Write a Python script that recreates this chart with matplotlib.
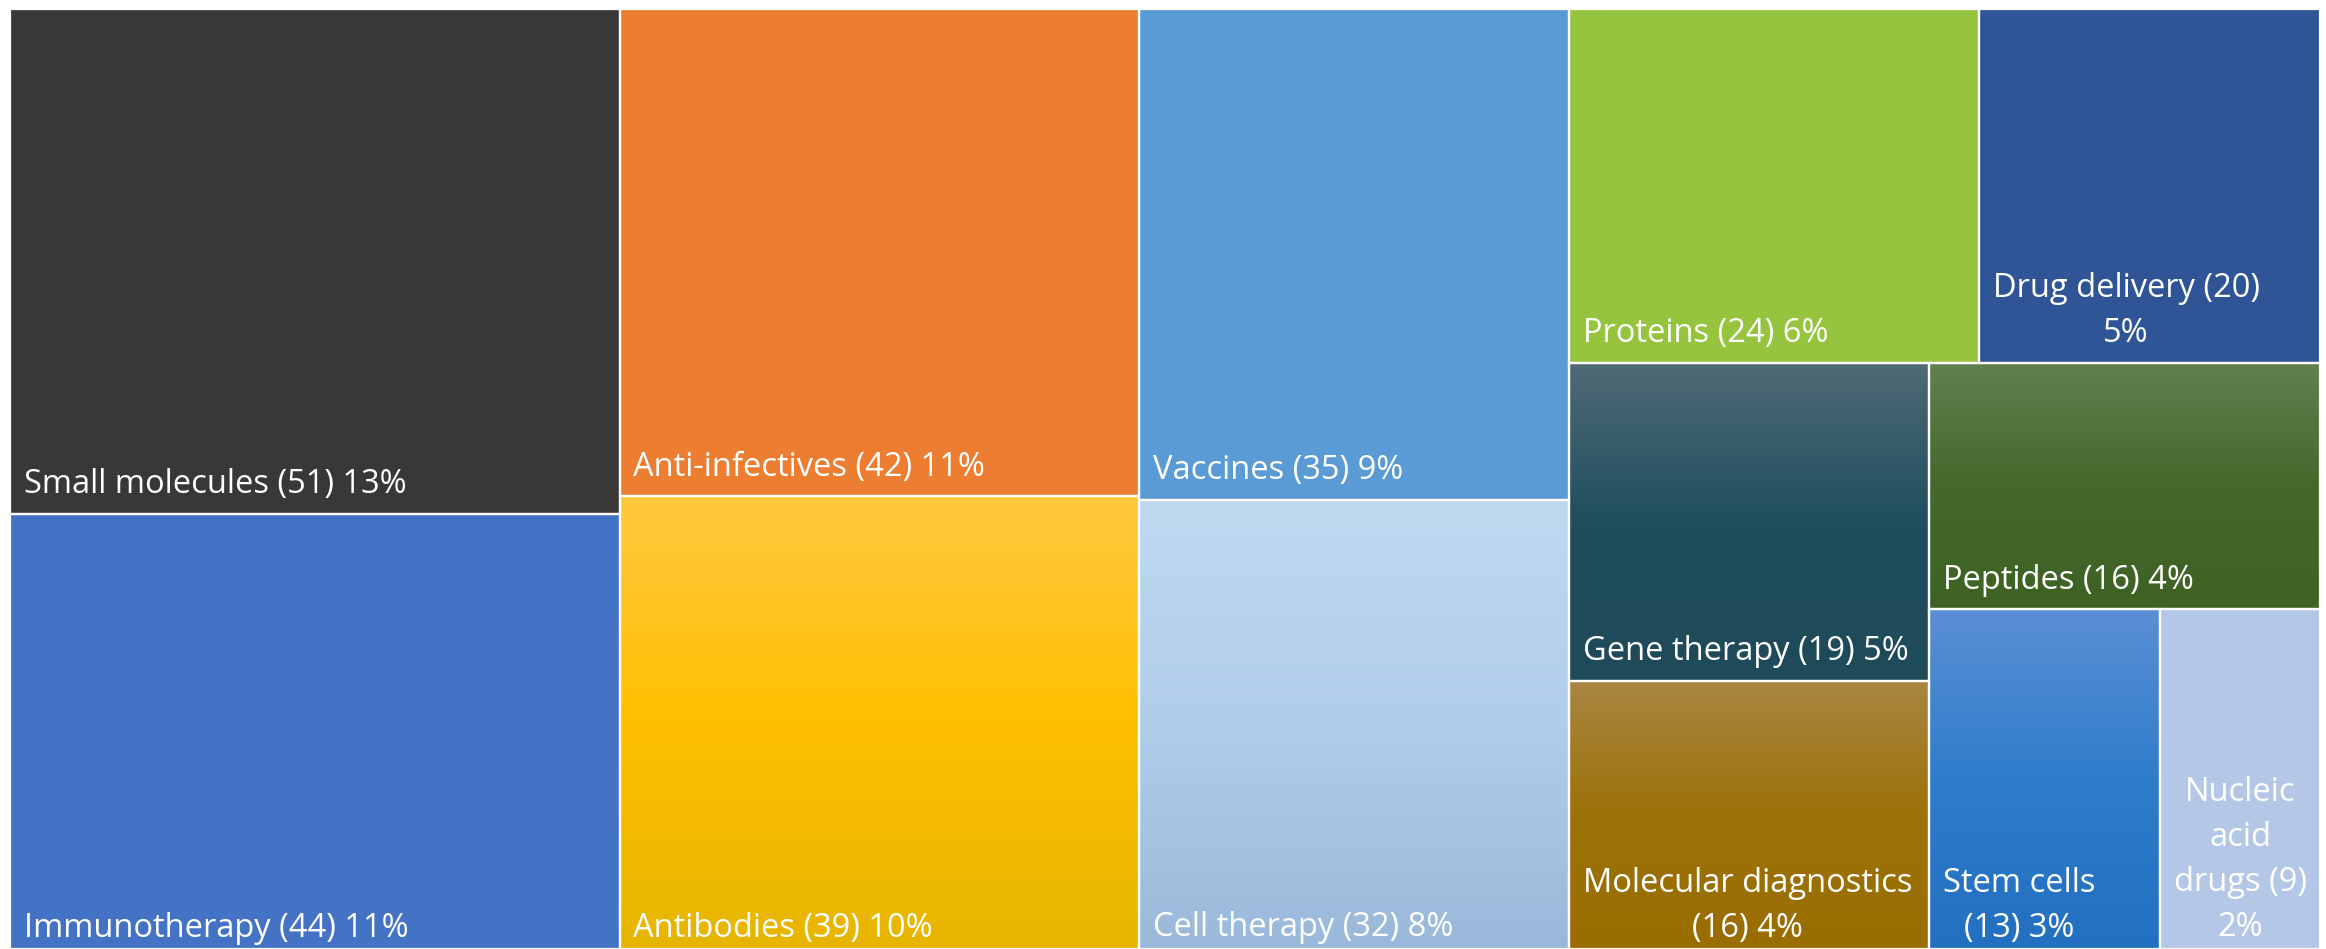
import matplotlib
matplotlib.use('Agg')
import matplotlib.pyplot as plt
from matplotlib.colors import LinearSegmentedColormap
import numpy as np

# data (excel order: value descending, ties in sheet order)
names = ['Small molecules', 'Immunotherapy', 'Anti-infectives', 'Antibodies', 'Vaccines',
         'Cell therapy', 'Proteins', 'Drug delivery', 'Gene therapy', 'Molecular diagnostics',
         'Peptides', 'Stem cells', 'Nucleic acid drugs']
counts = [51, 44, 42, 39, 35, 32, 24, 20, 19, 16, 16, 13, 9]
pcts = [13, 11, 11, 10, 9, 8, 6, 5, 5, 4, 4, 3, 2]

# fill per tile: one colour = solid, several = vertical gradient top->bottom
fills = [['#3a3836'],
         ['#4472c4'],
         ['#ed7d31'],
         ['#ffc83f', '#ffc000', '#e6b500'],
         ['#5b9bd5'],
         ['#bfd9f0', '#b0cdea', '#9ab9da'],
         ['#97c43f'],
         ['#2f5597'],
         ['#506a75', '#1f4e5f', '#1f4a59'],
         ['#a98643', '#9c7208', '#9a6d00'],
         ['#61804f', '#44692b', '#3d6224'],
         ['#5a8fd4', '#2f7ccb', '#2370c0'],
         ['#b4c7e7']]

# labels that excel wraps because the tile is too narrow
wrapped = {'Drug delivery': 'Drug delivery (20)\n5%',
           'Molecular diagnostics': 'Molecular diagnostics\n(16) 4%',
           'Stem cells': 'Stem cells\n(13) 3%',
           'Nucleic acid drugs': 'Nucleic\nacid\ndrugs (9)\n2%'}

#------------------------------
# squarified layout
#------------------------------
def worst(row, side):
    s = sum(row)
    return max(max(side**2*r/s**2, s**2/(side**2*r)) for r in row)

def squarify(vals, x, y, w, h):
    tot = float(sum(vals))
    areas = [v*w*h/tot for v in vals]
    rects = []
    i = 0
    while i < len(areas):
        side = min(w, h)
        row = [areas[i]]; i += 1
        while i < len(areas) and worst(row+[areas[i]], side) <= worst(row, side):
            row.append(areas[i]); i += 1
        s = sum(row)
        if w >= h:
            cw = s/h; yy = y
            for r in row:
                rects.append((x, yy, cw, r/cw)); yy += r/cw
            x += cw; w -= cw
        else:
            rh = s/w; xx = x
            for r in row:
                rects.append((xx, y, r/rh, rh)); xx += r/rh
            y += rh; h -= rh
    return rects

W, H = 2310.0, 940.0
rects = squarify(counts, 0, 0, W, H)

plt.rcParams['font.family'] = ['Open Sans', 'DejaVu Sans']
fs = 23.5
step = 32.4  # points between baselines

fig = plt.figure(figsize=(23.26, 9.49), dpi=100)
ax = fig.add_axes([10/2326, 0, W/2326, H/949])
ax.set_xlim(0, W)
ax.set_ylim(H, 0)
ax.axis('off')
renderer = fig.canvas.get_renderer()

for name, c, p, f, (x, y, w, h) in zip(names, counts, pcts, fills, rects):
    if len(f) == 1:
        ax.add_patch(plt.Rectangle((x, y), w, h, facecolor=f[0], edgecolor='none', zorder=1))
    else:
        cmap = LinearSegmentedColormap.from_list(name, f)
        grad = np.linspace(0, 1, 256).reshape(-1, 1)
        ax.imshow(grad, cmap=cmap, extent=(x, x+w, y+h, y), aspect='auto', zorder=1,
                  interpolation='bilinear')
    ax.add_patch(plt.Rectangle((x, y), w, h, facecolor='none', edgecolor='white', lw=1.6, zorder=2))

    # label: lines centred on each other, block sits bottom-left
    lines = wrapped.get(name, f'{name} ({c}) {p}%').split('\n')
    widths = []
    for ln in lines:
        t = ax.text(0, 0, ln, fontsize=fs)
        widths.append(t.get_window_extent(renderer).width*72/fig.dpi)
        t.remove()
    bw = max(widths)
    yoff = 9 if y+h > H-1 else 15
    for k, ln in enumerate(lines):
        ax.annotate(ln, xy=(x, y+h), xytext=(10 + bw/2, yoff + (len(lines)-1-k)*step),
                    textcoords='offset points', ha='center', va='baseline',
                    color='white', fontsize=fs, zorder=3)

ax.set_xlim(0, W)
ax.set_ylim(H, 0)

plt.savefig('out.png', dpi=100)
